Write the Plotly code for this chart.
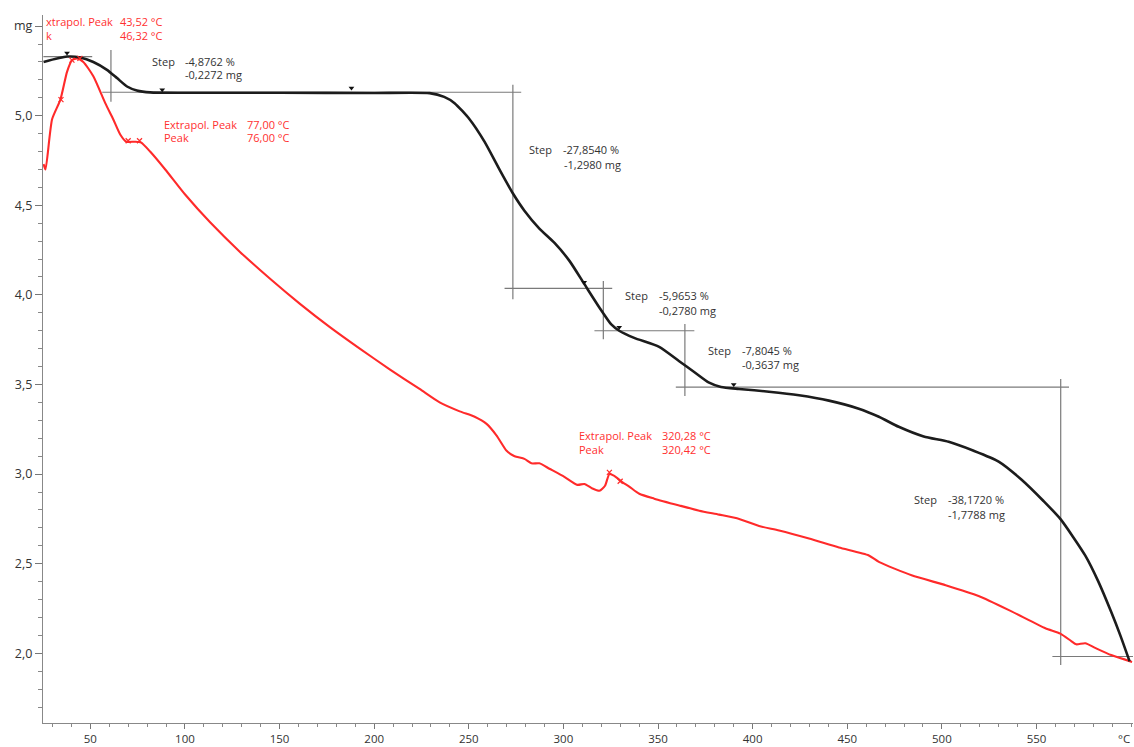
import plotly.graph_objects as go

# ---- data (temperature °C, mass mg) ----
tg_x = [25.3, 37.7, 44.7, 51.6, 58.8, 64.1, 69.4, 74.6, 81.6, 100, 150, 200, 229.3, 237, 242.5,
        250.4, 258.3, 266.2, 273.1, 279.4, 287.3, 295.3, 303.2, 311.1, 319, 325.3, 329.5,
        337.4, 350.6, 361.2, 369.1, 377, 383.3, 392.8, 408.6, 424.5, 440.3, 456.1, 466.7,
        477.2, 490.4, 503.6, 516.8, 530, 542, 553.7, 562.6, 575.8, 582.7, 589.5, 594.3, 599.2]
tg_y = [5.30, 5.33, 5.325, 5.30, 5.256, 5.21, 5.163, 5.141, 5.13, 5.128, 5.128, 5.127, 5.126,
        5.105, 5.07, 4.98, 4.855, 4.70, 4.57, 4.47, 4.37, 4.29, 4.19, 4.06, 3.93, 3.835, 3.80,
        3.76, 3.71, 3.63, 3.57, 3.51, 3.486, 3.475, 3.46, 3.44, 3.41, 3.365, 3.32, 3.264, 3.21,
        3.18, 3.13, 3.07, 2.97, 2.85, 2.75, 2.545, 2.40, 2.23, 2.10, 1.955]

dta_x = [25.3, 26.3, 29.8, 34.2, 37.7, 40.3, 43, 46.3, 51.6, 57.9, 62.1, 65.8, 69, 73.7, 76.9,
         81.6, 89.6, 100.1, 113.3, 129.1, 145, 160.8, 176.6, 192.4, 208.2, 224, 234.6, 245.2,
         253.1, 259.4, 264.7, 270, 274.2, 279.4, 283.1, 287.3, 292.6, 300.5, 307.4, 311.1,
         315.3, 319, 322, 324.3, 326.9, 331.1, 334.8, 340.1, 348, 361.2, 371.8, 382.3, 392.9,
         403.4, 414, 429.8, 445.6, 461.4, 466.7, 484, 502, 519.4, 536.8, 554.7, 562.6, 568.5,
         571, 575.8, 581, 589.5, 600.5]
dta_y = [4.73, 4.70, 4.98, 5.09, 5.245, 5.31, 5.32, 5.30, 5.22, 5.07, 4.98, 4.895, 4.855, 4.855,
         4.85, 4.80, 4.70, 4.56, 4.405, 4.24, 4.09, 3.95, 3.82, 3.70, 3.585, 3.475, 3.40, 3.35,
         3.32, 3.28, 3.215, 3.13, 3.10, 3.085, 3.06, 3.06, 3.03, 2.985, 2.94, 2.945, 2.92, 2.907,
         2.935, 3.0, 2.99, 2.955, 2.93, 2.89, 2.863, 2.825, 2.796, 2.774, 2.75, 2.71, 2.685,
         2.64, 2.59, 2.546, 2.51, 2.435, 2.38, 2.32, 2.234, 2.14, 2.11, 2.067, 2.05, 2.056,
         2.03, 1.99, 1.952]

# evaluation tangent lines (x0, x1, y0, y1)
step_lines = [
    (25.2, 51.0, 5.33, 5.33),
    (60.9, 60.9, 5.367, 5.078),
    (56.3, 277.7, 5.131, 5.131),
    (273.3, 273.3, 5.173, 3.976),
    (268.9, 325.8, 4.036, 4.036),
    (321.1, 321.1, 4.078, 3.753),
    (316.4, 369.2, 3.80, 3.80),
    (364.2, 364.2, 3.837, 3.436),
    (359.4, 567.2, 3.485, 3.485),
    (562.8, 562.8, 3.531, 1.935),
    (558.4, 601.0, 1.982, 1.982),
]

tg_mark_x = [37.7, 88.0, 188.0, 311.0, 329.5, 390.0]
tg_mark_y = [5.35, 5.145, 5.155, 4.07, 3.82, 3.50]
dta_mark_x = [34.5, 40.3, 44.5, 70.0, 76.0, 324.3, 330.0]
dta_mark_y = [5.09, 5.31, 5.32, 4.86, 4.86, 3.01, 2.96]

x_ticks = [50, 100, 150, 200, 250, 300, 350, 400, 450, 500, 550]
y_ticks = [2.0, 2.5, 3.0, 3.5, 4.0, 4.5, 5.0, 5.5]
y_ticktext = ["2,0", "2,5", "3,0", "3,5", "4,0", "4,5", "5,0", "mg"]

# text labels: (text, x, y)
step_texts = [
    ("Step", 81.6, 5.30), ("-4,8762 %", 99.0, 5.30), ("-0,2272 mg", 99.0, 5.228),
    ("Step", 280.6, 4.81), ("-27,8540 %", 298.5, 4.81), ("-1,2980 mg", 299.5, 4.73),
    ("Step", 331.3, 3.998), ("-5,9653 %", 349.3, 3.998), ("-0,2780 mg", 349.3, 3.915),
    ("Step", 375.1, 3.692), ("-7,8045 %", 393.1, 3.692), ("-0,3637 mg", 393.1, 3.614),
    ("Step", 484.4, 2.857), ("-38,1720 %", 502.4, 2.857), ("-1,7788 mg", 502.4, 2.773),
]
peak_texts = [
    ("xtrapol. Peak", 25.5, 5.527), ("43,52 °C", 64.4, 5.527),
    ("k", 25.5, 5.449), ("46,32 °C", 64.4, 5.449),
    ("Extrapol. Peak", 87.7, 4.95), ("77,00 °C", 131.5, 4.95),
    ("Peak", 87.7, 4.877), ("76,00 °C", 131.5, 4.877),
    ("Extrapol. Peak", 307.2, 3.214), ("320,28 °C", 351.0, 3.214),
    ("Peak", 307.2, 3.136), ("320,42 °C", 351.0, 3.136),
]

fig = go.Figure()

for x0, x1, y0, y1 in step_lines:
    fig.add_trace(go.Scatter(x=[x0, x1], y=[y0, y1], mode="lines",
                             line=dict(color="#7a7a7a", width=1.2),
                             showlegend=False, hoverinfo="skip"))

fig.add_trace(go.Scatter(x=dta_x, y=dta_y, mode="lines",
                         line=dict(color="#ff2a2a", width=2.1, shape="spline", smoothing=0.6),
                         showlegend=False))
fig.add_trace(go.Scatter(x=tg_x, y=tg_y, mode="lines",
                         line=dict(color="#1c1c1c", width=2.6, shape="spline", smoothing=0.6),
                         showlegend=False))
fig.add_trace(go.Scatter(x=tg_mark_x, y=tg_mark_y, mode="markers",
                         marker=dict(symbol="triangle-down", size=5, color="#111"),
                         showlegend=False))
fig.add_trace(go.Scatter(x=dta_mark_x, y=dta_mark_y, mode="markers",
                         marker=dict(symbol="x-thin", size=5, line=dict(color="#ff2a2a", width=1.2)),
                         showlegend=False))

FONT = "Open Sans"
for t, x, y in step_texts:
    fig.add_annotation(x=x, y=y, text=t, showarrow=False, xanchor="left", yanchor="middle",
                       font=dict(family=FONT, size=11, color="#333333"))
for t, x, y in peak_texts:
    fig.add_annotation(x=x, y=y, text=t, showarrow=False, xanchor="left", yanchor="middle",
                       font=dict(family=FONT, size=11, color="#ff3030"))
fig.add_annotation(x=596.0, y=0, xref="x", yref="paper", yshift=-15, text="°C", showarrow=False,
                   xanchor="center", yanchor="middle",
                   font=dict(family=FONT, size=11.5, color="#333333"))

fig.update_xaxes(range=[25, 601], tickvals=x_ticks, ticks="outside", ticklen=5, tickwidth=1,
                 tickcolor="#777", showline=True, linecolor="#888", linewidth=1.2,
                 showgrid=False, zeroline=False,
                 tickfont=dict(family=FONT, size=11.5, color="#333"),
                 minor=dict(dtick=10, ticks="outside", ticklen=3, tickcolor="#888", showgrid=False))
fig.update_yaxes(range=[1.611, 5.562], tickvals=y_ticks, ticktext=y_ticktext, ticks="outside",
                 ticklen=7, tickwidth=1, tickcolor="#777", showline=True, linecolor="#888",
                 linewidth=1.2, showgrid=False, zeroline=False,
                 tickfont=dict(family=FONT, size=12.5, color="#333"),
                 minor=dict(dtick=0.1, tick0=0, ticks="outside", ticklen=4, tickcolor="#888",
                            showgrid=False))
fig.update_layout(width=1134, height=747, margin=dict(l=43, r=1, t=15, b=22),
                  plot_bgcolor="white", paper_bgcolor="white", showlegend=False)

# remove the page's default body margin so the figure fills the window exactly
fig.write_html("out.html", config={"displayModeBar": False},
               post_script="document.body.style.margin='0px';document.body.style.overflow='hidden';")
